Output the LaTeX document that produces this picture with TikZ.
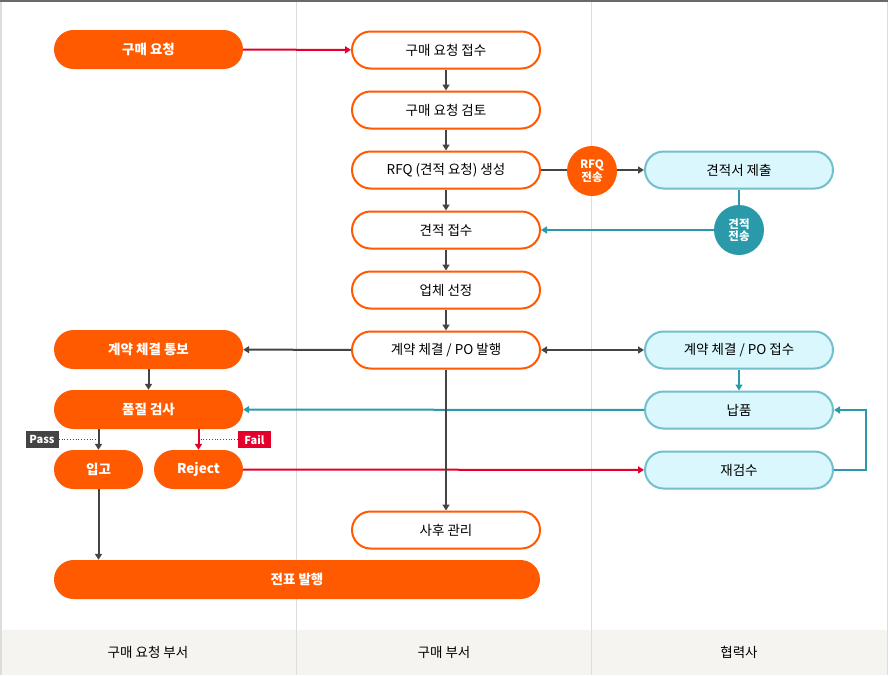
\documentclass[tikz,border=0pt]{standalone}
\usepackage{fontspec}
\setmainfont{Noto Sans CJK KR}
\usetikzlibrary{arrows.meta,positioning,calc}
\definecolor{org}{HTML}{FF5A00}
\definecolor{redc}{HTML}{E4002B}
\definecolor{tealc}{HTML}{2A9AAB}
\definecolor{tealb}{HTML}{72BFCD}
\definecolor{cyanf}{HTML}{D9F7FC}
\definecolor{darkc}{HTML}{444444}
\definecolor{lanec}{HTML}{DDDDDD}
\definecolor{bandc}{HTML}{F5F4F0}
\tikzset{
  box/.style={rounded corners=19.5pt, minimum height=39pt, inner sep=0pt, font=\fontsize{13.5}{15}\selectfont},
  fillbox/.style={box, fill=org, text=white, font=\fontsize{13.5}{15}\selectfont\bfseries},
  wbox/.style={box, draw=org, line width=2pt, fill=white, text=black, minimum height=37pt, rounded corners=18.5pt},
  cbox/.style={box, draw=tealb, line width=2pt, fill=cyanf, text=black, minimum height=37pt, rounded corners=18.5pt},
  circ/.style={circle, minimum size=50pt, inner sep=0pt, text=white, align=center, font=\fontsize{11.5}{12}\selectfont\bfseries},
  tag/.style={inner sep=0pt, minimum height=17pt, text=white, font=\fontsize{11}{12}\selectfont\bfseries},
  arr/.style={line width=2pt, -{Triangle[length=6pt,width=7pt]}},
  lanelbl/.style={font=\fontsize{13.5}{15}\selectfont, text=black}
}
\begin{document}
\begin{tikzpicture}[x=1pt,y=-1pt]
\useasboundingbox (0,0) rectangle (888,675);
% background and lanes
\fill[white] (0,0) rectangle (888,675);
\fill[bandc] (0,630) rectangle (888,675);
\draw[lanec, line width=1pt] (296,0) -- (296,675);
\draw[lanec, line width=1pt] (591,0) -- (591,675);
\draw[lanec, line width=1.5pt] (0.75,0) -- (0.75,675);
\draw[lanec, line width=1.5pt] (887.25,0) -- (887.25,675);
\draw[darkc!80, line width=1.5pt] (0,0.75) -- (888,0.75);
% lane labels
\node[lanelbl] (l1) at (148,652) {구매 요청 부서};
\node[lanelbl] (l2) at (444,652) {구매 부서};
\node[lanelbl] (l3) at (739,652) {협력사};
% left lane
\node[fillbox, minimum width=189pt] (req) at (148.5,49.5) {구매 요청};
\node[fillbox, minimum width=189pt] (notice) at (148.5,349.5) {계약 체결 통보};
\node[fillbox, minimum width=189pt] (qc) at (148.5,409.5) {품질 검사};
\node[fillbox, minimum width=89pt] (stock) at (98.5,469.5) {입고};
\node[fillbox, minimum width=89pt] (reject) at (198.5,469.5) {Reject};
\node[fillbox, minimum width=486pt] (slip) at (297,579.5) {전표 발행};
% center lane
\node[wbox, minimum width=188pt] (recv) at (446,50) {구매 요청 접수};
\node[wbox, minimum width=188pt] (review) at (446,110) {구매 요청 검토};
\node[wbox, minimum width=188pt] (rfq) at (446,170) {RFQ (견적 요청) 생성};
\node[wbox, minimum width=188pt] (quote) at (446,230) {견적 접수};
\node[wbox, minimum width=188pt] (select) at (446,290) {업체 선정};
\node[wbox, minimum width=188pt] (po) at (446,350) {계약 체결 / PO 발행};
\node[wbox, minimum width=188pt] (after) at (446,530) {사후 관리};
% right lane
\node[cbox, minimum width=188pt] (submit) at (739,170) {견적서 제출};
\node[cbox, minimum width=188pt] (poacc) at (739,350) {계약 체결 / PO 접수};
\node[cbox, minimum width=188pt] (deliv) at (739,410) {납품};
\node[cbox, minimum width=188pt] (recheck) at (739,470) {재검수};
% connectors
\draw[arr, redc] (req) -- (recv);
\draw[arr, darkc] (recv) -- (review);
\draw[arr, darkc] (review) -- (rfq);
\draw[arr, darkc] (rfq) -- (quote);
\draw[arr, darkc] (quote) -- (select);
\draw[arr, darkc] (select) -- (po);
\draw[arr, darkc] (rfq) -- (submit);
\coordinate (qt) at (739,230);
\draw[tealc, line width=2pt] (submit) -- (qt);
\draw[arr, tealc] (qt) -- (quote);
\node[circ, fill=org] (rfqc) at (592,171) {RFQ\\전송};
\node[circ, fill=tealc] (qtc) at (739,230) {견적\\전송};
\draw[arr, darkc] (po) -- (notice);
\draw[line width=2pt, darkc, {Triangle[length=6pt,width=7pt]}-{Triangle[length=6pt,width=7pt]}] (po) -- (poacc);
\draw[arr, tealc] (poacc) -- (deliv);
\draw[arr, tealc] (deliv) -- (qc);
\draw[arr, tealc] (recheck.east) -- (866,470) -- (866,410) -- (deliv.east);
\draw[arr, darkc] (notice) -- (qc);
\draw[arr, darkc] (qc.south -| stock) -- (stock);
\draw[arr, redc] (qc.south -| reject) -- (reject);
\draw[arr, darkc] (stock) -- (stock |- slip.north);
\draw[arr, redc] (reject) -- (recheck);
\draw[arr, darkc] (po) -- (after);
% tags
\node[tag, fill=darkc, minimum width=33pt] (pass) at (42,439.5) {Pass};
\node[tag, fill=redc, minimum width=33pt] (fail) at (254.5,439.5) {Fail};
\draw[darkc, line width=0.8pt, dotted] (pass.east) -- (98,439.5);
\draw[redc, line width=0.8pt, dotted] (fail.west) -- (198.5,439.5);
\end{tikzpicture}
\end{document}
